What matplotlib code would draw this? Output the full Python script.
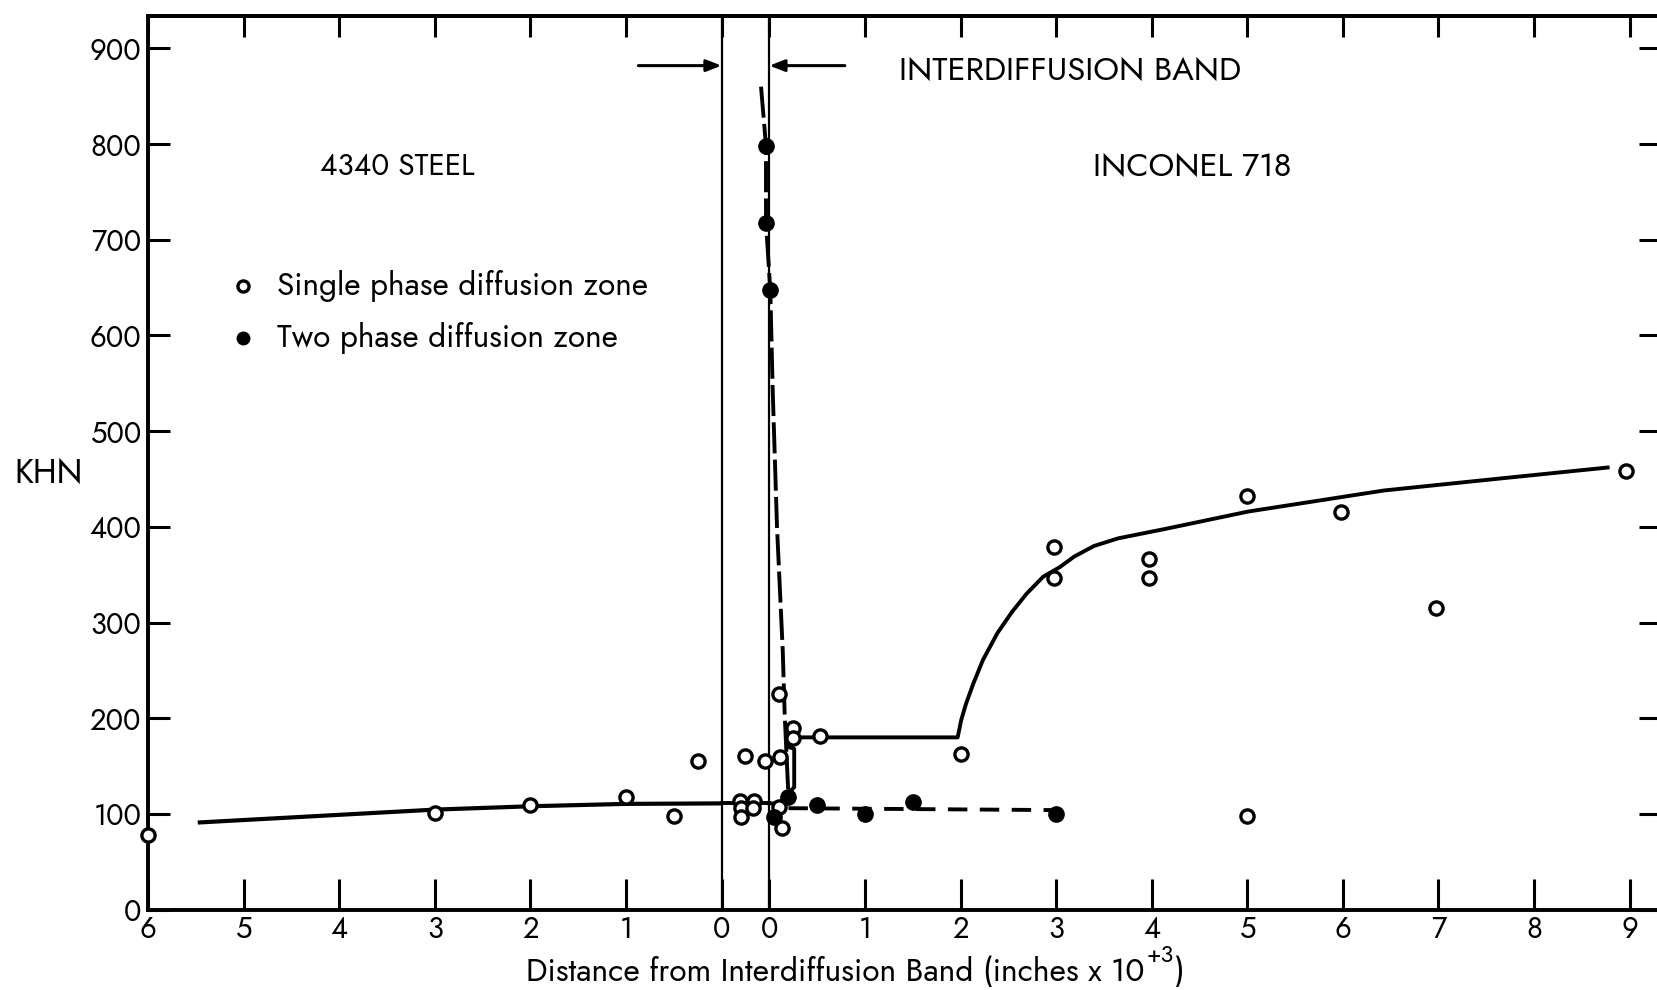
import matplotlib
matplotlib.use('Agg')
import matplotlib.pyplot as plt

plt.rcParams['font.family'] = ['Jost', 'Liberation Sans', 'DejaVu Sans']
plt.rcParams['font.weight'] = 'medium'

# ---------------- data ----------------
# x positions: distance (inches x 1e-3) from the interdiffusion band.
# The band itself is drawn as a strip of width 2*BAND_HALF around 0.
BAND_HALF = 0.25

def steel(d):
    return [-BAND_HALF - v for v in d]

def inconel(d):
    return [BAND_HALF + v for v in d]

# single phase diffusion zone (open circles)
steel_single_d = [6, 3, 2, 1, 0.5, 0.25]
steel_single_khn = [78, 101, 109, 118, 98, 155]
band_single_pos = [0.0, -0.06, 0.09, -0.05, 0.08, -0.05, 0.20]
band_single_khn = [161, 113, 114, 106, 106, 97, 155]
inconel_single_d = [0.11, 0.10, 0.25, 0.25, 0.53, 0.10, 0.13, 2.0, 2.98, 2.98,
                    3.97, 3.97, 5.0, 5.0, 5.98, 6.97, 8.96]
inconel_single_khn = [159, 225, 190, 179, 181, 107, 85, 163, 379, 347,
                      366, 347, 432, 98, 416, 315, 458]

# two phase diffusion zone (filled circles)
band_two_pos = [0.215, 0.215]
band_two_khn = [798, 718]
inconel_two_d = [0.01, 0.19, 0.05, 0.5, 1.0, 1.5, 3.0]
inconel_two_khn = [647, 118, 97, 109, 100, 112, 100]

# fitted curves
steel_curve_d = [5.48, 3.0, 2.0, 1.0, 0.0]
steel_curve_khn = [91, 104.5, 108, 110.5, 111]
band_curve_pos = [-0.25, 0.25]
band_curve_khn = [111, 111]
inconel_curve_d = [0.0, 0.1, 0.26, 0.26, 0.2, 0.2, 1.97, 2.007, 2.057, 2.133, 2.235,
                   2.386, 2.538, 2.69, 2.866, 3.04, 3.19, 3.396, 3.65, 4.15, 5.01,
                   6.43, 7.69, 8.77]
inconel_curve_khn = [111, 111, 128, 168, 170, 180, 180, 198, 215, 236, 261,
                     289, 311, 330, 348, 358, 369, 380, 388, 398, 416,
                     438, 451, 462]
# two-phase dashed curves
vert_dash_pos = [0.163, 0.215, 0.215, 0.26, 0.285, 0.33, 0.39, 0.41, 0.45]
vert_dash_khn = [860, 798, 718, 647, 543, 400, 271, 205, 118]
horiz_dash_d = [0.2, 3.0]
horiz_dash_khn = [106, 104]

steel_ticks = [6, 5, 4, 3, 2, 1, 0]
inconel_ticks = [0, 1, 2, 3, 4, 5, 6, 7, 8, 9]
y_ticks = [0, 100, 200, 300, 400, 500, 600, 700, 800, 900]

# ---------------- figure ----------------
W, H = 1568.0, 936.0
fig = plt.figure(figsize=(16.58, 9.90), dpi=100)
ax = fig.add_axes([140 / W, 1 - 860 / H, (1571 - 140) / W, (860 - 15) / H])
ax.set_xlim(-6.25, 9.58)
ax.set_ylim(0, 934)

LW = 2.8
FS = 21

for s in ax.spines.values():
    s.set_linewidth(2.8)

# band boundaries
for xb in (-BAND_HALF, BAND_HALF):
    ax.axvline(xb, color='black', lw=1.6, zorder=2)

# curves
ax.plot(steel(steel_curve_d), steel_curve_khn, color='black', lw=3.0, zorder=3,
        solid_capstyle='butt')
ax.plot(band_curve_pos, band_curve_khn, color='black', lw=LW, zorder=3)
ax.plot(inconel(inconel_curve_d), inconel_curve_khn, color='black', lw=LW, zorder=3)
ax.plot(vert_dash_pos, vert_dash_khn, color='black', lw=LW, dashes=(8, 1.6), zorder=3)
ax.plot(inconel(horiz_dash_d), horiz_dash_khn, color='black', lw=LW, dashes=(5, 3.2), zorder=3)

# points
open_kw = dict(marker='o', ms=9.5, mfc='white', mec='black', mew=2.4, ls='none', zorder=5)
fill_kw = dict(marker='o', ms=11, mfc='black', mec='black', ls='none', zorder=5)
ax.plot(steel(steel_single_d), steel_single_khn, clip_on=False, **open_kw)
ax.plot(band_single_pos, band_single_khn, **open_kw)
ax.plot(inconel(inconel_single_d), inconel_single_khn, label='Single phase diffusion zone', **open_kw)
ax.plot(band_two_pos, band_two_khn, **fill_kw)
ax.plot(inconel(inconel_two_d), inconel_two_khn, label='Two phase diffusion zone', **fill_kw)

# ticks
xt = steel(steel_ticks) + inconel(inconel_ticks)
xl = [str(v) for v in steel_ticks] + [str(v) for v in inconel_ticks]
ax.set_xticks(xt)
ax.set_xticklabels(xl, fontsize=FS)
ax.set_yticks(y_ticks)
ax.set_yticklabels([str(v) for v in y_ticks], fontsize=FS)
ax.tick_params(axis='x', direction='in', length=22, width=2.2, pad=4, top=False)
ax.tick_params(axis='y', direction='in', length=16, width=2.2, pad=5, right=True)
top = ax.secondary_xaxis('top')
top.set_xticks(xt)
top.tick_params(direction='in', length=15, width=2.2, labeltop=False)
top.spines['top'].set_linewidth(2.8)

# arrows marking band
arrow_kw = dict(arrowstyle='-|>,head_length=0.9,head_width=0.35', lw=2.2, color='black',
                shrinkA=0, shrinkB=0)
ax.annotate('', xy=(-BAND_HALF, 882), xytext=(-1.12, 882), arrowprops=arrow_kw)
ax.annotate('', xy=(BAND_HALF, 882), xytext=(1.04, 882), arrowprops=arrow_kw)

ax.text(1.61, 877, 'INTERDIFFUSION BAND', fontsize=23.5, va='center', ha='left')
ax.text(-3.64, 776, '4340 STEEL', fontsize=21.5, va='center', ha='center')
ax.text(4.67, 776, 'INCONEL 718', fontsize=23.5, va='center', ha='center')

# legend
ax.plot([-5.26], [652], marker='o', ms=8, mfc='white', mec='black', mew=2.4, ls='none')
ax.plot([-5.26], [597], marker='o', ms=9, mfc='black', mec='black', ls='none')
ax.text(-4.9, 652, 'Single phase diffusion zone', fontsize=22.7, va='center', ha='left')
ax.text(-4.9, 597, 'Two phase diffusion zone', fontsize=22.7, va='center', ha='left')

# axis labels
fig.text(14 / W, 1 - 447 / H, 'KHN', fontsize=24, va='center', ha='left')
t1 = fig.text(497 / W, 1 - 919 / H, 'Distance from Interdiffusion Band (inches x 10',
              fontsize=22.8, va='center', ha='left')
r = fig.canvas.get_renderer()
bb = t1.get_window_extent(renderer=r)
x_end = bb.x1 / fig.bbox.width
t2 = fig.text(x_end + 0.0015, 1 - 903 / H, '+3', fontsize=17, va='center', ha='left')
bb2 = t2.get_window_extent(renderer=r)
fig.text(bb2.x1 / fig.bbox.width, 1 - 919 / H, ')', fontsize=22.8, va='center', ha='left')

fig.savefig('out.png', dpi=100)
